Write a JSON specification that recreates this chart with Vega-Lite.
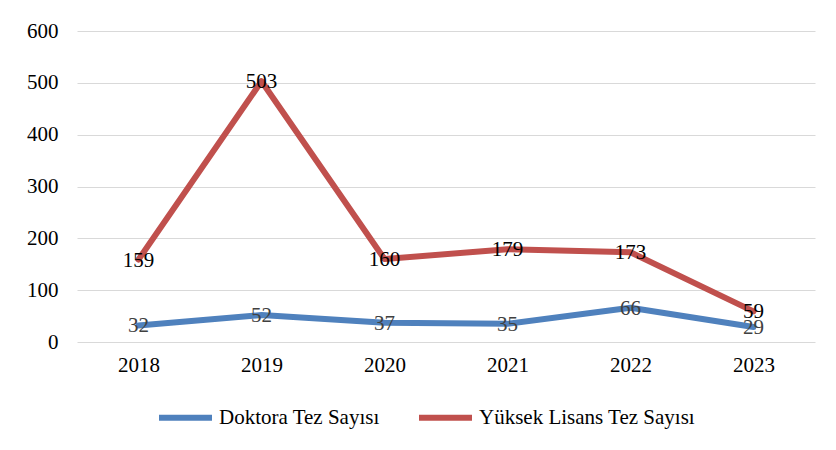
{
  "$schema": "https://vega.github.io/schema/vega-lite/v6.json",
  "width": 738,
  "height": 311,
  "autosize": {"type": "none"},
  "padding": {"left": 77, "top": 31, "right": 21, "bottom": 108},
  "background": "white",
  "config": {
    "view": {"stroke": null},
    "font": "Liberation Serif",
    "axis": {"labelFont": "Liberation Serif", "labelFontSize": 21, "labelColor": "#000000"},
    "legend": {"labelFont": "Liberation Serif", "labelFontSize": 21, "labelColor": "#000000", "labelLimit": 0}
  },
  "data": {
    "values": [
      {"year": "2018", "series": "Doktora Tez Sayısı", "value": 32},
      {"year": "2019", "series": "Doktora Tez Sayısı", "value": 52},
      {"year": "2020", "series": "Doktora Tez Sayısı", "value": 37},
      {"year": "2021", "series": "Doktora Tez Sayısı", "value": 35},
      {"year": "2022", "series": "Doktora Tez Sayısı", "value": 66},
      {"year": "2023", "series": "Doktora Tez Sayısı", "value": 29},
      {"year": "2018", "series": "Yüksek Lisans Tez Sayısı", "value": 159},
      {"year": "2019", "series": "Yüksek Lisans Tez Sayısı", "value": 503},
      {"year": "2020", "series": "Yüksek Lisans Tez Sayısı", "value": 160},
      {"year": "2021", "series": "Yüksek Lisans Tez Sayısı", "value": 179},
      {"year": "2022", "series": "Yüksek Lisans Tez Sayısı", "value": 173},
      {"year": "2023", "series": "Yüksek Lisans Tez Sayısı", "value": 59}
    ]
  },
  "encoding": {
    "x": {
      "field": "year",
      "type": "ordinal",
      "axis": {
        "title": null,
        "labelAngle": 0,
        "domain": false,
        "ticks": false,
        "labelPadding": 12
      }
    },
    "y": {
      "field": "value",
      "type": "quantitative",
      "scale": {"domain": [0, 600], "nice": false},
      "axis": {
        "title": null,
        "values": [0, 100, 200, 300, 400, 500, 600],
        "domain": false,
        "ticks": false,
        "gridColor": "#d9d9d9",
        "gridWidth": 1.2,
        "labelPadding": 19
      }
    }
  },
  "layer": [
    {
      "mark": {"type": "line", "strokeWidth": 6, "strokeCap": "round", "strokeJoin": "round"},
      "encoding": {
        "color": {
          "field": "series",
          "type": "nominal",
          "scale": {
            "domain": ["Doktora Tez Sayısı", "Yüksek Lisans Tez Sayısı"],
            "range": ["#4F81BD", "#C0504D"]
          },
          "legend": {
            "title": null,
            "orient": "none",
            "legendX": 79,
            "legendY": 357,
            "direction": "horizontal",
            "symbolType": "stroke",
            "symbolSize": 2809,
            "symbolStrokeWidth": 6,
            "labelOffset": 4,
            "columnPadding": 27
          }
        }
      }
    },
    {
      "mark": {"type": "text", "fontSize": 21, "baseline": "middle", "dy": 1},
      "encoding": {
        "text": {"field": "value", "type": "quantitative"},
        "color": {
          "condition": {"test": "datum.series === 'Doktora Tez Sayısı'", "value": "#404040"},
          "value": "#000000"
        }
      }
    }
  ]
}
